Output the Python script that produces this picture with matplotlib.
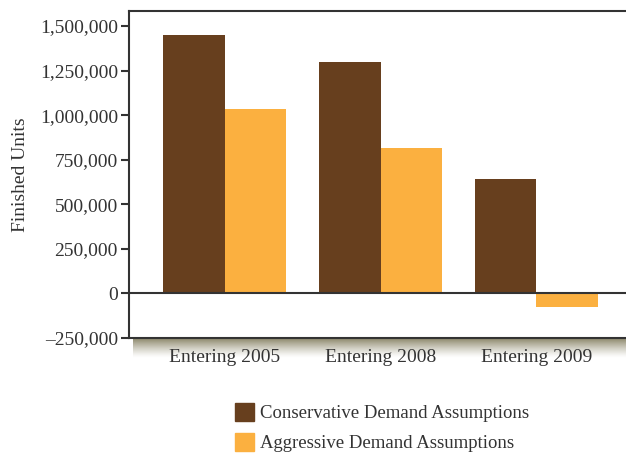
import numpy as np
import matplotlib.pyplot as plt
from matplotlib.patches import Patch
from matplotlib.ticker import FuncFormatter

# data
periods = ["Entering 2005", "Entering 2008", "Entering 2009"]
conservative = [1450000, 1300000, 640000]
aggressive = [1035000, 815000, -75000]
series_names = ["Conservative Demand Assumptions", "Aggressive Demand Assumptions"]

brown = "#673f1e"
orange = "#fbb040"
txt = "#333333"

plt.rcParams["font.family"] = ["Liberation Serif", "DejaVu Serif"]

fig = plt.figure(figsize=(6.26, 4.55), dpi=100)

# soft shadow under the plot box
sh = fig.add_axes([133 / 626, 1 - 358 / 455, 493 / 626, 20 / 455])
grad = np.linspace(1, 0, 50) ** 1.3
rgba = np.zeros((50, 1, 4))
rgba[..., 0] = 0.52
rgba[..., 1] = 0.50
rgba[..., 2] = 0.38
rgba[:, 0, 3] = grad * 0.95
sh.imshow(rgba, aspect="auto", extent=[0, 1, 0, 1])
sh.axis("off")

ax = fig.add_axes([129 / 626, 1 - 338 / 455, 503 / 626, 327 / 455])
x = np.arange(len(periods))
w = 0.395
ax.bar(x - w / 2, conservative, w, color=brown, zorder=2)
ax.bar(x + w / 2, aggressive, w, color=orange, zorder=2)

ax.axhline(0, color=txt, lw=1.5, zorder=3)
ax.set_xlim(-0.615, 2.615)
ax.set_ylim(-250000, 1584000)
ax.set_yticks(np.arange(-250000, 1500001, 250000))
ax.yaxis.set_major_formatter(FuncFormatter(lambda v, p: "{:,.0f}".format(v).replace("-", "\u2013")))
ax.set_xticks(x)
ax.set_xticklabels(periods)
ax.tick_params(axis="x", length=0, pad=8, labelsize=14, colors=txt)
ax.tick_params(axis="y", length=6, width=1.5, pad=2, labelsize=14, colors=txt, direction="out")
ax.set_ylabel("Finished Units", fontsize=14, color=txt, labelpad=8)

for s in ["left", "bottom", "top"]:
    ax.spines[s].set_color(txt)
    ax.spines[s].set_linewidth(1.5)
ax.spines["right"].set_visible(False)

handles = [Patch(color=brown), Patch(color=orange)]
fig.legend(handles, series_names, loc="upper left", bbox_to_anchor=(218 / 626, 1 - 386 / 455),
           frameon=False, fontsize=13.5, handlelength=1.0, handleheight=1.1,
           handletextpad=0.35, labelspacing=0.55, labelcolor=txt)

fig.savefig("out.png", dpi=100)
